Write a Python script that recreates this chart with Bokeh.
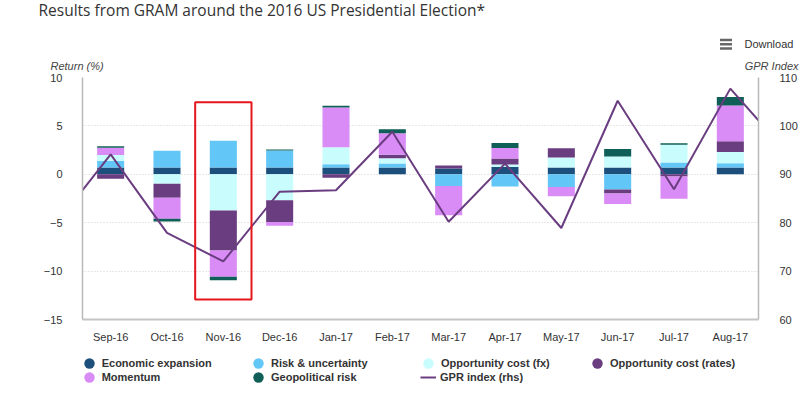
from bokeh.plotting import figure
from bokeh.layouts import column
from bokeh.models import (ColumnDataSource, Range1d, LinearAxis, FixedTicker, Label,
                          Legend, LegendItem, BoxAnnotation)
from bokeh.embed import file_html
from bokeh.resources import INLINE

# ---------------- data ----------------
months = ["Sep-16", "Oct-16", "Nov-16", "Dec-16", "Jan-17", "Feb-17",
          "Mar-17", "Apr-17", "May-17", "Jun-17", "Jul-17", "Aug-17"]
econ = [0.70, 0.70, 0.70, 0.70, 0.70, 0.70, 0.60, 0.75, 0.70, 0.70, 0.70, 0.70]
risk = [0.69, 1.73, 2.77, 1.75, 0.35, 0.42, -1.22, -1.27, -1.32, -1.56, 0.52, 0.45]
fx = [0.60, -0.97, -3.75, -2.67, 1.74, 0.55, 0.00, 0.25, 1.04, 1.15, 1.84, 1.15]
rates = [-0.45, -1.46, -4.13, -2.26, -0.35, 0.35, 0.30, 0.62, 0.94, -0.42, -0.24, 1.11]
momentum = [0.75, -2.16, -2.71, -0.38, 4.10, 2.22, -3.02, 1.10, -0.94, -1.08, -2.29, 3.70]
geo = [0.15, -0.28, -0.35, 0.10, 0.20, 0.42, 0.00, 0.52, 0.00, 0.76, 0.14, 0.87]

gpr_months = ["Aug-16"] + months + ["Sep-17"]
gpr = [79.3, 94.1, 77.9, 72.0, 86.4, 86.7, 98.8, 80.2, 92.2, 78.9, 105.2, 86.9, 107.7, 94.6]

left_ticks = [-15, -10, -5, 0, 5, 10]
right_ticks = [60, 70, 80, 90, 100, 110]

highlight_month = "Nov-16"
highlight_top = 7.45
highlight_bottom = -12.93

series_names = ["Economic expansion", "Risk & uncertainty", "Opportunity cost (fx)",
                "Opportunity cost (rates)", "Momentum", "Geopolitical risk"]
series_values = [econ, risk, fx, rates, momentum, geo]
series_colors = ["#1d4f7c", "#62c6f7", "#c8fcfd", "#6a3d80", "#d98cf6", "#0f5e57"]
gpr_name = "GPR index (rhs)"
gpr_color = "#6a3d80"

title_text = "Results from GRAM around the 2016 US Presidential Election*"

FONT = "Liberation Sans"
TXT = "#333333"
W = 800
HEAD_H, MAIN_H, FOOT_H = 72, 273, 55
NAN = float("nan")


def bare(h):
    f = figure(width=W, height=h, output_backend="svg", toolbar_location=None,
               x_range=Range1d(0, W), y_range=Range1d(h, 0),
               x_axis_type=None, y_axis_type=None, min_border=0, frame_align=False)
    f.outline_line_color = None
    return f


# ---------------- header (title, download menu, axis titles) ----------------
head = bare(HEAD_H)
head.add_layout(Label(x=38, y=9, text=title_text, text_font="Open Sans", text_font_size="15.5px",
                      text_color=TXT, text_baseline="middle", text_align="left"))
head.add_layout(Label(x=744, y=43.5, text="Download", text_font=FONT, text_font_size="11px",
                      text_color=TXT, text_baseline="middle", text_align="left"))
for yc in (39.5, 43.8, 48.0):
    head.add_layout(BoxAnnotation(left=719.5, right=731.5, top=yc - 1.3, bottom=yc + 1.3,
                                  fill_color="#666666", fill_alpha=1, line_alpha=0))
head.add_layout(Label(x=50, y=65, text="Return (%)", text_font=FONT, text_font_size="11px",
                      text_font_style="italic", text_color="#444444",
                      text_baseline="middle", text_align="left"))
head.add_layout(Label(x=798, y=65, text="GPR Index", text_font=FONT, text_font_size="11px",
                      text_font_style="italic", text_color="#444444",
                      text_baseline="middle", text_align="right"))

# ---------------- main chart ----------------
p = figure(width=W, height=MAIN_H, output_backend="svg", toolbar_location=None,
           x_range=Range1d(-0.5, len(months) - 0.5), y_range=Range1d(-15, 10),
           min_border_left=82, min_border_right=36, min_border_top=5, min_border_bottom=26,
           frame_align=False)
p.outline_line_color = None
p.extra_y_ranges = {"gpr": Range1d(60, 110)}

xa = p.xaxis[0]
xa.ticker = FixedTicker(ticks=list(range(len(months))))
xa.major_label_overrides = {i: m for i, m in enumerate(months)}
xa.major_tick_line_color = None
xa.minor_tick_line_color = None
xa.axis_line_color = "#c4c4c4"
xa.axis_line_width = 2
xa.major_label_text_font = FONT
xa.major_label_text_font_size = "11px"
xa.major_label_text_color = TXT
xa.major_label_standoff = 5

ya = p.yaxis[0]
ya.ticker = FixedTicker(ticks=left_ticks)
ya.major_tick_line_color = None
ya.minor_tick_line_color = None
ya.axis_line_color = "#b8b8b8"
ya.axis_line_width = 1.5
ya.major_label_text_font = FONT
ya.major_label_text_font_size = "11px"
ya.major_label_text_color = TXT
ya.major_label_standoff = 14

ra = LinearAxis(y_range_name="gpr", ticker=FixedTicker(ticks=right_ticks))
ra.major_tick_line_color = None
ra.minor_tick_line_color = None
ra.axis_line_color = "#b8b8b8"
ra.axis_line_width = 1.5
ra.major_label_text_font = FONT
ra.major_label_text_font_size = "11px"
ra.major_label_text_color = TXT
ra.major_label_standoff = 15
p.add_layout(ra, "right")

p.xgrid.visible = False
p.ygrid.grid_line_color = "#d0d0d0"
p.ygrid.grid_line_dash = "1 2"
p.ygrid.grid_line_width = 1

n = len(months)
pos = [0.0] * n
neg = [0.0] * n
for name, vals, color in zip(series_names, series_values, series_colors):
    bottom, top = [], []
    for i, v in enumerate(vals):
        if v >= 0:
            bottom.append(pos[i]); pos[i] += v; top.append(pos[i])
        else:
            bottom.append(neg[i]); neg[i] += v; top.append(neg[i])
    src = ColumnDataSource(dict(x=list(range(n)), bottom=bottom, top=top))
    p.vbar(x="x", bottom="bottom", top="top", width=0.48, source=src,
           fill_color=color, line_color=None)

gx = [months.index(m) if m in months else (-1 if m == gpr_months[0] else n) for m in gpr_months]
p.line(x=gx, y=gpr, y_range_name="gpr", line_color=gpr_color, line_width=2)

hi = months.index(highlight_month)
p.add_layout(BoxAnnotation(left=hi - 0.5, right=hi + 0.5, top=highlight_top, bottom=highlight_bottom,
                           fill_alpha=0, line_color="#e5161d", line_alpha=1, line_width=2))

# ---------------- legend strip ----------------
foot = bare(FOOT_H)
items = []
for name, color in zip(series_names, series_colors):
    r = foot.scatter(x=[NAN], y=[NAN], marker="circle", size=10, fill_color=color, line_color=None)
    items.append((name, r, False))
lr = foot.line(x=[NAN, NAN], y=[NAN, NAN], line_color=gpr_color, line_width=2)
items.append((gpr_name, lr, True))

col_x = [75.7, 245, 415, 584]
row_y = [24.5, 10.5]
for k, (name, rend, is_line) in enumerate(items):
    r, c = divmod(k, 4)
    lg = Legend(items=[LegendItem(label=name, renderers=[rend])],
                location=(col_x[c] + (5 if is_line else 0), row_y[r]),
                orientation="vertical", padding=0, margin=0, spacing=0,
                glyph_width=16 if is_line else 26, glyph_height=26,
                label_standoff=4 if is_line else 0,
                label_text_font=FONT, label_text_font_size="11px",
                label_text_font_style="bold", label_text_color=TXT,
                background_fill_alpha=0, border_line_alpha=0)
    foot.add_layout(lg)

layout = column(head, p, foot, spacing=0)
open("out.html", "w").write(file_html(layout, INLINE))
